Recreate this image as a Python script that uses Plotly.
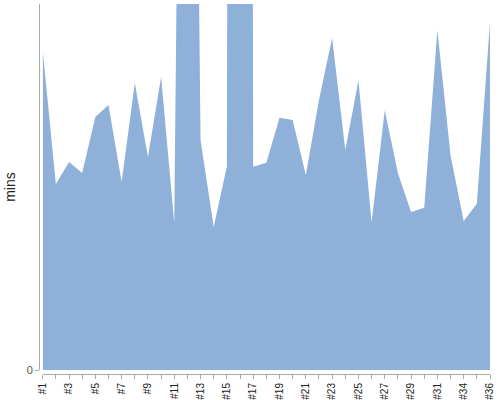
import plotly.graph_objects as go

categories = ["#%d" % i for i in range(1, 32)] + ["#33", "#34", "#35", "#36"]
minutes = [87.4, 50.8, 56.8, 53.8, 69.1, 72.4, 51.4, 78.4, 58.2, 80.1,
           40.2, 400.0, 62.8, 39.1, 55.7, 2000.0, 55.5, 56.6, 68.9, 68.3,
           53.3, 73.8, 90.7, 60.1, 79.2, 40.4, 71.0, 53.8, 43.2, 44.3,
           92.9, 58.7, 40.7, 45.4, 95.1]
tick_text = [c if i % 2 == 0 else "" for i, c in enumerate(categories)]
y_ticks = [0]
y_tick_text = ["0"]

fig = go.Figure()
fig.add_trace(go.Scatter(
    x=categories, y=minutes, mode="lines", fill="tozeroy",
    line=dict(width=0, color="#8fb1d9"), fillcolor="#8fb1d9",
    hoverinfo="x+y",
))

W, H = 500, 400
ml, mr, mt, mb = 39, 10, 4, 26
pw, ph = W - ml - mr, H - mt - mb

fig.update_layout(
    width=W, height=H,
    margin=dict(l=ml, r=mr, t=mt, b=mb, pad=0, autoexpand=False),
    plot_bgcolor="white", paper_bgcolor="white",
    showlegend=False,
    font=dict(family="Liberation Sans, Arial, sans-serif"),
    xaxis=dict(
        type="category", domain=[3.7 / pw, 1], anchor="free", position=0,
        range=[0, len(categories) - 1],
        tickmode="array", tickvals=categories, ticktext=tick_text,
        tickangle=-90, ticks="outside", ticklen=4, tickcolor="#aaaaaa",
        showline=True, linecolor="#aaaaaa", linewidth=1,
        showgrid=False, zeroline=False,
        tickfont=dict(size=10, color="#222222"),
        automargin=False,
    ),
    yaxis=dict(
        domain=[4 / ph, 1], anchor="free", position=0,
        range=[0, 100],
        tickmode="array", tickvals=y_ticks, ticktext=y_tick_text,
        ticks="outside", ticklen=4, tickcolor="#aaaaaa",
        showline=True, linecolor="#aaaaaa", linewidth=1,
        showgrid=False, zeroline=False,
        tickfont=dict(size=11, color="#555555"),
        title=dict(text="mins", font=dict(size=14, color="#222222"), standoff=6),
        automargin=False,
    ),
)

fig.write_html(
    "out.html",
    config={"displayModeBar": False},
    post_script="document.body.style.margin='0';document.body.style.overflow='hidden';",
)
